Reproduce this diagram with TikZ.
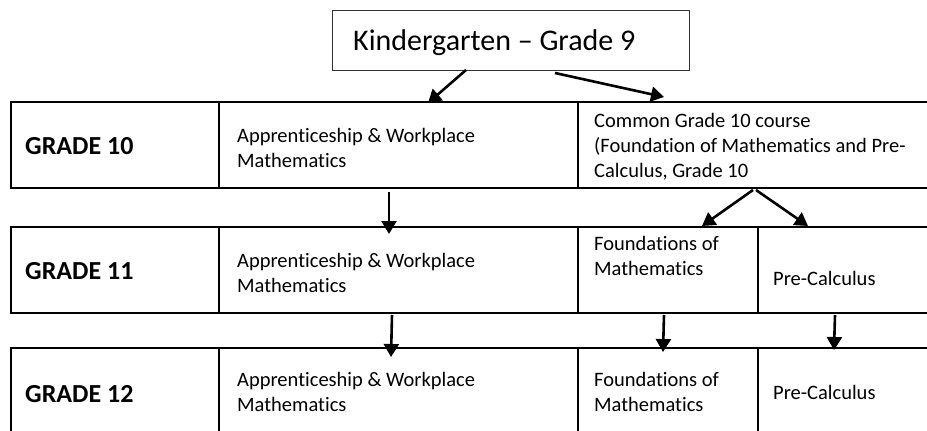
\documentclass[tikz,border=0pt]{standalone}
\usepackage{fontspec}
\setmainfont{Carlito}[Ligatures=NoCommon]
\usetikzlibrary{arrows.meta}
\begin{document}
\begin{tikzpicture}[x=1pt,y=-1pt,
  tbl/.style={line width=1.8pt,line join=miter},
  arr/.style={line width=2.6pt,-{Triangle[length=13pt,width=15pt]}},
  grade/.style={font=\fontsize{26}{31}\selectfont\bfseries,anchor=base west,inner sep=0},
  cell/.style={font=\fontsize{20.5}{25}\selectfont,anchor=base west,inner sep=0,align=left},
]
\useasboundingbox (0,0) rectangle (927,431);
% top box
\node[draw=black!80,line width=1pt,anchor=north west,minimum width=357pt,minimum height=60pt,inner sep=0] (k9) at (332,10) {};
\node[font=\fontsize{30}{36}\selectfont,anchor=base west,inner sep=0] (k9t) at (353,50) {Kindergarten – Grade 9};
% rows
\draw[tbl] (935,102) -- (11,102) -- (11,188) -- (935,188);
\draw[tbl] (219,102) -- (219,188) (578,102) -- (578,188);
\draw[tbl] (935,227) -- (11,227) -- (11,313) -- (935,313);
\draw[tbl] (219,227) -- (219,313) (578,227) -- (578,313) (758,227) -- (758,313);
\draw[tbl] (935,348) -- (11,348) -- (11,440) -- (935,440);
\draw[tbl] (219,348) -- (219,440) (578,348) -- (578,440) (758,348) -- (758,440);
% texts (base anchor = baseline of the last line)
\node[grade] (g10) at (25,154) {GRADE 10};
\node[grade] (g11) at (25,279) {GRADE 11};
\node[grade] (g12) at (25,402) {GRADE 12};
\node[cell] (aw10) at (237,167) {Apprenticeship \& Workplace\\Mathematics};
\node[cell] (c10) at (594,177) {Common Grade 10 course\\(Foundation of Mathematics and Pre-\\Calculus, Grade 10};
\node[cell] (aw11) at (237,292) {Apprenticeship \& Workplace\\Mathematics};
\node[cell] (f11) at (594,275) {Foundations of\\Mathematics};
\node[cell] (p11) at (773,285) {Pre-Calculus};
\node[cell] (aw12) at (237,411) {Apprenticeship \& Workplace\\Mathematics};
\node[cell] (f12) at (594,411) {Foundations of\\Mathematics};
\node[cell] (p12) at (773,399) {Pre-Calculus};
% arrows
\coordinate (a1s) at (466,70); \coordinate (a1e) at (428,103);
\coordinate (a2s) at (555,73); \coordinate (a2e) at (664,97);
\coordinate (a3s) at (389,192); \coordinate (a3e) at (389,234);
\coordinate (a4s) at (753,190); \coordinate (a4e) at (702,226);
\coordinate (a5s) at (756,190); \coordinate (a5e) at (808,226);
\coordinate (a6s) at (392,315); \coordinate (a6e) at (391,357);
\coordinate (a7s) at (664,315); \coordinate (a7e) at (663,352);
\coordinate (a8s) at (835,315); \coordinate (a8e) at (834,350);
\draw[arr] (a1s) -- (a1e);
\draw[arr] (a2s) -- (a2e);
\draw[arr] (a3s) -- (a3e);
\draw[arr] (a4s) -- (a4e);
\draw[arr] (a5s) -- (a5e);
\draw[arr] (a6s) -- (a6e);
\draw[arr] (a7s) -- (a7e);
\draw[arr] (a8s) -- (a8e);
\end{tikzpicture}
\end{document}
